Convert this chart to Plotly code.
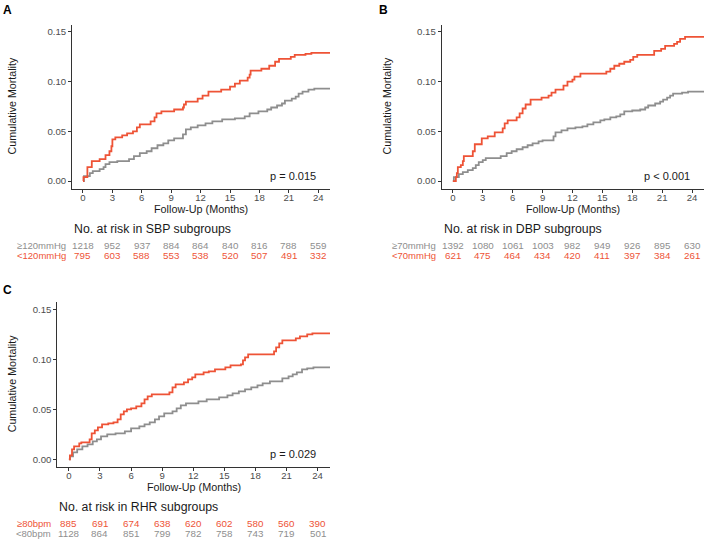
import plotly.graph_objects as go

RED = "#EE5336"
GREY = "#8E8E8E"

# Panel A (SBP)
a_red_t = [0, 0.05, 0.45, 0.9, 1.7, 2.3, 2.7, 2.9, 3.0, 3.3, 4.0, 4.5, 5.1, 5.5, 5.8, 6.9, 7.3, 7.5, 8.0, 9.3, 10.2, 10.3, 10.5, 11.7, 12.2, 12.8, 14.1, 15.0, 15.5, 16.0, 16.8, 17.0, 17.1, 18.2, 19.0, 19.6, 20.0, 21.2, 21.6, 22.7, 23.3, 25.2]
a_red_v = [0, 0.004, 0.014, 0.020, 0.022, 0.026, 0.030, 0.035, 0.042, 0.044, 0.046, 0.048, 0.050, 0.054, 0.057, 0.060, 0.064, 0.068, 0.070, 0.072, 0.074, 0.077, 0.080, 0.083, 0.086, 0.090, 0.092, 0.095, 0.098, 0.101, 0.104, 0.107, 0.111, 0.113, 0.116, 0.120, 0.123, 0.125, 0.127, 0.128, 0.129, 0.129]
a_grey_t = [0, 0.1, 0.7, 1.0, 1.7, 2.1, 2.3, 2.7, 3.5, 4.7, 5.2, 5.8, 6.5, 7.0, 7.6, 8.2, 8.7, 9.3, 10.2, 10.5, 11.0, 11.7, 12.5, 13.2, 14.2, 15.5, 16.5, 17.0, 17.9, 18.8, 19.2, 19.8, 20.3, 20.6, 21.3, 21.7, 22.0, 22.4, 23.0, 23.6, 25.2]
a_grey_v = [0, 0.005, 0.008, 0.010, 0.012, 0.014, 0.017, 0.019, 0.020, 0.022, 0.025, 0.028, 0.030, 0.033, 0.036, 0.038, 0.041, 0.043, 0.047, 0.052, 0.054, 0.056, 0.058, 0.060, 0.062, 0.063, 0.065, 0.068, 0.070, 0.072, 0.074, 0.076, 0.078, 0.081, 0.083, 0.085, 0.088, 0.090, 0.092, 0.093, 0.093]

# Panel B (DBP)
b_red_t = [0, 0.3, 0.4, 0.5, 0.8, 1.0, 1.1, 2.0, 2.2, 2.9, 3.5, 4.2, 5.0, 5.2, 5.5, 6.4, 6.7, 7.0, 7.3, 7.8, 8.9, 9.6, 9.9, 10.3, 11.1, 11.5, 12.0, 12.2, 12.8, 15.4, 15.8, 16.2, 16.7, 17.2, 17.8, 18.1, 18.5, 20.2, 20.9, 21.3, 22.2, 22.5, 22.8, 23.3, 25.2]
b_red_v = [0, 0.004, 0.008, 0.014, 0.016, 0.020, 0.025, 0.030, 0.037, 0.043, 0.045, 0.049, 0.053, 0.058, 0.061, 0.064, 0.068, 0.073, 0.077, 0.082, 0.084, 0.086, 0.089, 0.092, 0.096, 0.100, 0.102, 0.105, 0.108, 0.110, 0.113, 0.116, 0.118, 0.120, 0.122, 0.125, 0.127, 0.131, 0.133, 0.136, 0.138, 0.140, 0.143, 0.145, 0.145]
b_grey_t = [0, 0.1, 0.6, 1.0, 1.5, 2.0, 2.3, 2.6, 3.0, 3.3, 4.8, 5.4, 5.9, 6.4, 7.0, 7.5, 8.0, 8.6, 9.0, 10.1, 10.3, 10.9, 11.5, 12.3, 13.0, 13.5, 14.1, 14.8, 15.2, 15.8, 16.4, 16.8, 17.2, 18.0, 18.8, 19.3, 19.6, 20.3, 20.8, 21.1, 21.5, 21.8, 22.1, 23.0, 23.6, 25.2]
b_grey_v = [0, 0.004, 0.007, 0.009, 0.011, 0.013, 0.016, 0.019, 0.021, 0.023, 0.025, 0.028, 0.030, 0.032, 0.034, 0.036, 0.038, 0.040, 0.041, 0.045, 0.049, 0.051, 0.053, 0.054, 0.055, 0.057, 0.059, 0.061, 0.062, 0.064, 0.065, 0.067, 0.070, 0.071, 0.072, 0.074, 0.076, 0.078, 0.080, 0.082, 0.084, 0.086, 0.088, 0.089, 0.090, 0.090]

# Panel C (RHR)
c_red_t = [0, 0.1, 0.3, 0.5, 1.0, 1.2, 2.0, 2.2, 2.5, 2.8, 3.2, 3.8, 4.3, 4.7, 5.0, 5.3, 5.6, 6.0, 6.5, 7.0, 7.3, 7.6, 8.0, 9.7, 10.0, 10.3, 11.1, 11.5, 11.9, 12.2, 13.0, 13.5, 14.1, 15.1, 15.6, 16.6, 16.8, 17.0, 17.3, 19.8, 20.0, 20.3, 20.6, 21.9, 22.3, 23.0, 23.5, 25.2]
c_red_v = [0, 0.004, 0.010, 0.013, 0.016, 0.017, 0.020, 0.026, 0.029, 0.032, 0.035, 0.036, 0.037, 0.040, 0.045, 0.048, 0.050, 0.051, 0.053, 0.056, 0.060, 0.063, 0.065, 0.067, 0.072, 0.075, 0.077, 0.080, 0.082, 0.085, 0.087, 0.088, 0.090, 0.092, 0.094, 0.095, 0.099, 0.102, 0.105, 0.108, 0.112, 0.116, 0.119, 0.121, 0.123, 0.125, 0.126, 0.126]
c_grey_t = [0, 0.1, 0.4, 0.8, 1.3, 1.8, 2.3, 2.7, 3.1, 3.7, 4.5, 5.4, 6.0, 6.8, 7.3, 7.8, 8.3, 8.7, 9.2, 10.0, 10.4, 10.8, 11.3, 12.5, 13.3, 14.5, 15.3, 15.8, 16.4, 17.0, 17.6, 18.2, 18.7, 19.4, 20.6, 21.2, 21.6, 22.0, 22.5, 23.0, 23.6, 25.2]
c_grey_v = [0, 0.003, 0.007, 0.010, 0.013, 0.015, 0.018, 0.020, 0.023, 0.025, 0.026, 0.028, 0.031, 0.033, 0.035, 0.037, 0.040, 0.043, 0.046, 0.048, 0.051, 0.054, 0.056, 0.058, 0.060, 0.062, 0.064, 0.066, 0.068, 0.070, 0.072, 0.074, 0.076, 0.078, 0.081, 0.083, 0.085, 0.087, 0.090, 0.091, 0.092, 0.092]

risk_times = [0, 3, 6, 9, 12, 15, 18, 21, 24]
a_hi_label, a_lo_label = "≥120mmHg", "<120mmHg"
a_hi_risk = [1218, 952, 937, 884, 864, 840, 816, 788, 559]
a_lo_risk = [795, 603, 588, 553, 538, 520, 507, 491, 332]
b_hi_label, b_lo_label = "≥70mmHg", "<70mmHg"
b_hi_risk = [1392, 1080, 1061, 1003, 982, 949, 926, 895, 630]
b_lo_risk = [621, 475, 464, 434, 420, 411, 397, 384, 261]
c_hi_label, c_lo_label = "≥80bpm", "<80bpm"
c_hi_risk = [885, 691, 674, 638, 620, 602, 580, 560, 390]
c_lo_risk = [1128, 864, 851, 799, 782, 758, 743, 719, 501]

W, H = 708, 541
FONT = "Liberation Sans, Arial, sans-serif"

fig = go.Figure()

# panel geometry in pixels: (x_left, x_right, y_top, y_bottom)
panels = [
    dict(name="", px=(72, 330, 24.5, 188.5), red=(a_red_t, a_red_v), grey=(a_grey_t, a_grey_v),
         pval="p = 0.015", title="No. at risk in SBP subgroups", ytitle_x=12,
         rows=[(a_hi_label, a_hi_risk, GREY), (a_lo_label, a_lo_risk, RED)], letter="A", letter_xy=(7, 10)),
    dict(name="2", px=(441.7, 704, 24.5, 188.5), red=(b_red_t, b_red_v), grey=(b_grey_t, b_grey_v),
         pval="p < 0.001", title="No. at risk in DBP subgroups", ytitle_x=387,
         rows=[(b_hi_label, b_hi_risk, GREY), (b_lo_label, b_lo_risk, RED)], letter="B", letter_xy=(383, 10)),
    dict(name="3", px=(57.3, 330, 301.8, 466.8), red=(c_red_t, c_red_v), grey=(c_grey_t, c_grey_v),
         pval="p = 0.029", title="No. at risk in RHR subgroups", ytitle_x=12,
         rows=[(c_hi_label, c_hi_risk, RED), (c_lo_label, c_lo_risk, GREY)], letter="C", letter_xy=(7, 290)),
]

annotations = []
layout = {}
for p in panels:
    xl, xr, yt, yb = p["px"]
    xa = "xaxis" + p["name"]
    ya = "yaxis" + p["name"]
    xref = "x" + p["name"]
    yref = "y" + p["name"]
    layout[xa] = dict(domain=[xl / W, xr / W], range=[-1.12, 25.2], anchor=yref, automargin=False,
                      tickvals=risk_times, ticks="outside", ticklen=3, tickcolor="#333333",
                      showline=True, linecolor="#333333", linewidth=1, showgrid=False, zeroline=False,
                      ticklabelstandoff=-3,
                      tickfont=dict(family=FONT, size=9.6, color="#4D4D4D"))
    layout[ya] = dict(domain=[1 - yb / H, 1 - yt / H], range=[-0.0075, 0.1575], anchor=xref, automargin=False,
                      tickvals=[0, 0.05, 0.10, 0.15], ticktext=["0.00", "0.05", "0.10", "0.15"],
                      ticks="outside", ticklen=3, tickcolor="#333333",
                      showline=True, linecolor="#333333", linewidth=1, showgrid=False, zeroline=False,
                      tickfont=dict(family=FONT, size=9.6, color="#4D4D4D"))
    fig.add_trace(go.Scatter(x=p["grey"][0], y=p["grey"][1], mode="lines", line=dict(color=GREY, width=1.8, shape="hv"),
                             xaxis=xref, yaxis=yref, showlegend=False, hoverinfo="skip"))
    fig.add_trace(go.Scatter(x=p["red"][0], y=p["red"][1], mode="lines", line=dict(color=RED, width=1.8, shape="hv"),
                             xaxis=xref, yaxis=yref, showlegend=False, hoverinfo="skip"))
    # axis titles
    annotations.append(dict(x=(xl + xr) / 2 / W, y=1 - (yb + 20) / H, xref="paper", yref="paper",
                            text="Follow-Up (Months)", showarrow=False, xanchor="center", yanchor="middle",
                            font=dict(family=FONT, size=10.8, color="#1A1A1A")))
    annotations.append(dict(x=p["ytitle_x"] / W, y=1 - (yt + yb) / 2 / H, xref="paper", yref="paper",
                            text="Cumulative Mortality", showarrow=False, textangle=-90,
                            xanchor="center", yanchor="middle", font=dict(family=FONT, size=10.7, color="#1A1A1A")))
    # p-value
    annotations.append(dict(x=24, y=0.005, xref=xref, yref=yref, text=p["pval"], showarrow=False,
                            xanchor="right", yanchor="middle", font=dict(family=FONT, size=11, color="#1A1A1A")))
    # risk table title
    annotations.append(dict(x=xl / W, y=1 - (yb + 40) / H, xref="paper", yref="paper", text=p["title"], showarrow=False,
                            xanchor="left", yanchor="middle", font=dict(family=FONT, size=12.3, color="#1A1A1A")))
    for i, (lab, vals, col) in enumerate(p["rows"]):
        yy = 1 - (yb + 57 + 10 * i) / H
        annotations.append(dict(x=(xl - 4) / W, y=yy, xref="paper", yref="paper", text=lab, showarrow=False,
                                xanchor="right", yanchor="middle", font=dict(family=FONT, size=9.5, color=col)))
        for t, v in zip(risk_times, vals):
            annotations.append(dict(x=t, y=yy, xref=xref, yref="paper", text=str(v), showarrow=False,
                                    xanchor="center", yanchor="middle", font=dict(family=FONT, size=9.8, color=col)))
    # panel letter
    annotations.append(dict(x=p["letter_xy"][0] / W, y=1 - p["letter_xy"][1] / H, xref="paper", yref="paper",
                            text="<b>" + p["letter"] + "</b>", showarrow=False, xanchor="center", yanchor="middle",
                            font=dict(family=FONT, size=12, color="#000000")))

fig.update_layout(width=W, height=H, margin=dict(l=0, r=0, t=0, b=0), template="none",
                  paper_bgcolor="white", plot_bgcolor="white", annotations=annotations, **layout)
fig.write_html("out.html", config={"displayModeBar": False},
               post_script="document.body.style.margin='0px';document.body.style.overflow='hidden';")
